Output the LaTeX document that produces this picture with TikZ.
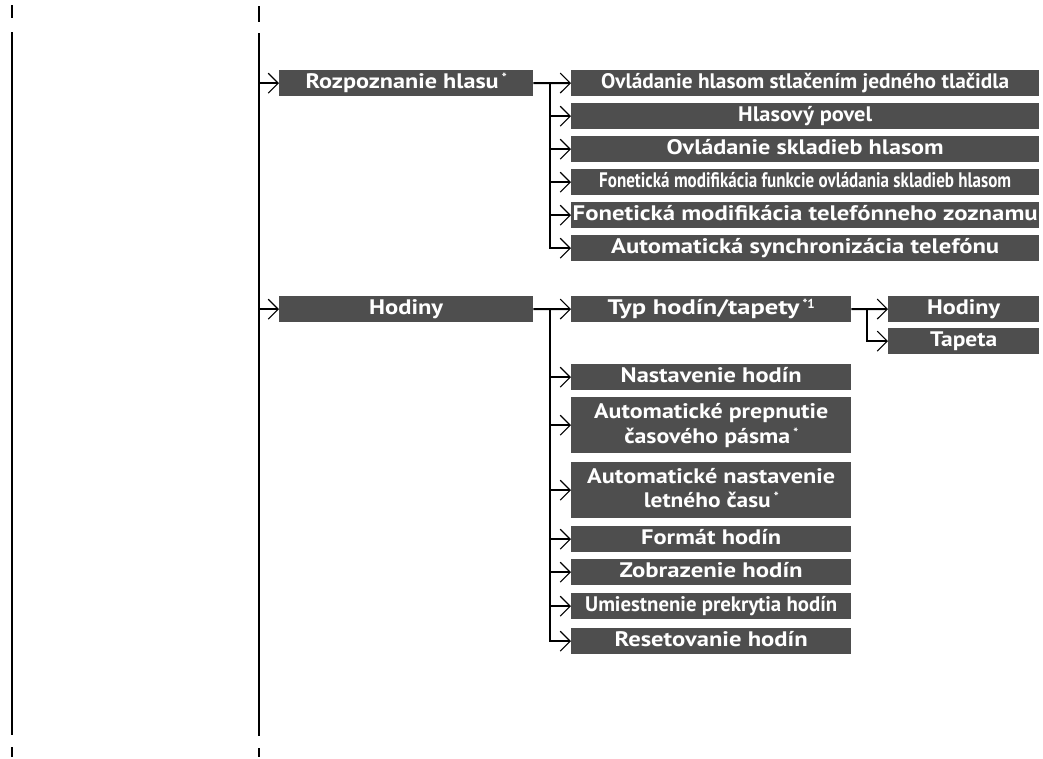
\documentclass[tikz,border=0pt]{standalone}
\usepackage{graphicx}
\usepackage{fontspec}
\setmainfont{PT Sans}
\usetikzlibrary{arrows.meta}
\definecolor{boxgray}{RGB}{78,78,78}
\newcommand\fw[2]{\resizebox{#1pt}{\height}{#2}}
\newcommand\supmark[1]{\kern3pt\raisebox{5.5pt}{\fontsize{13}{13}\selectfont #1}}
\newcommand\itemfont{\fontsize{21}{24}\selectfont\bfseries}
\begin{document}
\begin{tikzpicture}[x=1pt,y=-1pt,
  conn/.style={line width=2pt},
  arr/.style={line width=2pt, -{Straight Barb[length=10pt,width=20pt,line width=1.1pt]}},
  tickmark/.style={line width=1.5pt},
  itembox/.style={fill=boxgray, inner sep=0pt, anchor=north west, minimum height=26pt},
  item/.style={itembox, text=white, font=\itemfont, text height=14pt, text depth=4pt},
  lbl/.style={text=white, font=\itemfont, inner sep=0pt, anchor=base}]
\useasboundingbox (0,0) rectangle (1043,758);

% main vertical lines
\coordinate (m1a) at (12,32);
\coordinate (m1b) at (12,735);
\coordinate (m2a) at (259,33);
\coordinate (m2b) at (259,736);
\draw[conn] (m1a) -- (m1b);
\draw[conn] (m2a) -- (m2b);
\coordinate (t1a) at (12,5);
\coordinate (t1b) at (12,18);
\coordinate (t2a) at (259,6);
\coordinate (t2b) at (259,22);
\coordinate (t3a) at (12,747);
\coordinate (t3b) at (12,757);
\coordinate (t4a) at (259,748);
\coordinate (t4b) at (259,757);
\draw[tickmark] (t1a) -- (t1b);
\draw[tickmark] (t2a) -- (t2b);
\draw[tickmark] (t3a) -- (t3b);
\draw[tickmark] (t4a) -- (t4b);

% first group
\node[item, minimum width=254pt] (rozp) at (279,70) {\fw{193}{Rozpoznanie hlasu}\supmark{*}};
\node[item, minimum width=468pt] (r1) at (571,70) {\fw{408}{Ovládanie hlasom stlačením jedného tlačidla}};
\node[item, minimum width=468pt] (r2) at (571,103) {\fw{134}{Hlasový povel}};
\node[item, minimum width=468pt] (r3) at (571,136) {\fw{277}{Ovládanie skladieb hlasom}};
\node[item, minimum width=468pt] (r4) at (571,169) {\fw{412}{Fonetická modifikácia funkcie ovládania skladieb hlasom}};
\node[item, minimum width=468pt] (r5) at (571,202) {\fw{465}{Fonetická modifikácia telefónneho zoznamu}};
\node[item, minimum width=468pt] (r6) at (571,235) {\fw{388}{Automatická synchronizácia telefónu}};

% second group
\node[item, minimum width=254pt] (hod) at (279,296) {\fw{74}{Hodiny}};
\node[item, minimum width=280pt] (typ) at (571,296) {\fw{192}{Typ hodín/tapety}\supmark{*1}};
\node[item, minimum width=151pt] (hod2) at (888,296) {\fw{73}{Hodiny}};
\node[item, minimum width=151pt] (tap) at (888,328) {\fw{67}{Tapeta}};
\node[item, minimum width=280pt] (nas) at (571,364) {\fw{181}{Nastavenie hodín}};
\node[itembox, minimum width=280pt, minimum height=56pt] (auto1) at (571,397) {};
\node[lbl] (auto1a) at ([yshift=-21pt]auto1.north) {\fw{234}{Automatické prepnutie}};
\node[lbl] (auto1b) at ([yshift=-46pt]auto1.north) {\fw{166}{časového pásma}\supmark{*}};
\node[itembox, minimum width=280pt, minimum height=56pt] (auto2) at (571,462) {};
\node[lbl] (auto2a) at ([yshift=-21pt]auto2.north) {\fw{248}{Automatické nastavenie}};
\node[lbl] (auto2b) at ([yshift=-45pt]auto2.north) {\fw{127}{letného času}\supmark{*}};
\node[item, minimum width=280pt] (form) at (571,526) {\fw{140}{Formát hodín}};
\node[item, minimum width=280pt] (zobr) at (571,559) {\fw{183}{Zobrazenie hodín}};
\node[item, minimum width=280pt] (umie) at (571,593) {\fw{252}{Umiestnenie prekrytia hodín}};
\node[item, minimum width=280pt] (rese) at (571,628) {\fw{193}{Resetovanie hodín}};

% connectors from main line
\draw[arr] (m2a |- rozp.west) -- (rozp.west);
\draw[arr] (m2a |- hod.west) -- (hod.west);

% branch 1
\coordinate (b1) at (550,83);
\draw[conn] (rozp.east) -- (b1);
\draw[arr] (b1) -- (r1.west);
\foreach \n in {r2,r3,r4,r5} \draw[arr] (b1 |- \n.west) -- (\n.west);
\draw[arr] (b1) -- (b1 |- r6.west) -- (r6.west);

% branch 2
\coordinate (b2) at (550,309);
\draw[conn] (hod.east) -- (b2);
\draw[arr] (b2) -- (typ.west);
\foreach \n in {nas,auto1,auto2,form,zobr,umie} \draw[arr] (b2 |- \n.west) -- (\n.west);
\draw[arr] (b2) -- (b2 |- rese.west) -- (rese.west);

% branch 3
\coordinate (b3) at (867,309);
\draw[conn] (typ.east) -- (b3);
\draw[arr] (b3) -- (hod2.west);
\draw[arr] (b3) -- (b3 |- tap.west) -- (tap.west);
\end{tikzpicture}
\end{document}
